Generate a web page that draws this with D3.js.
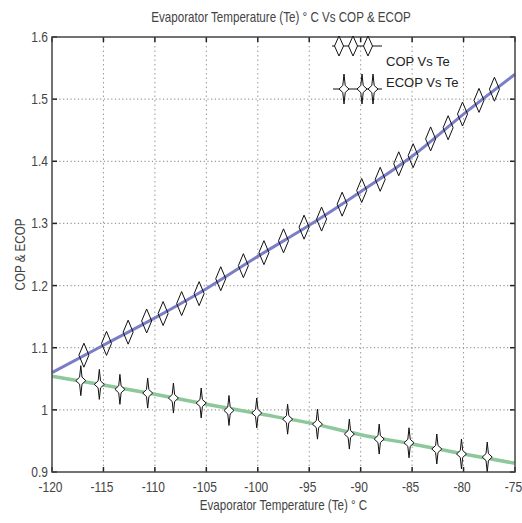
<!DOCTYPE html>
<html lang="en">
  <head>
    <meta charset="UTF-8" />
    <title>COP and ECOP vs Te</title>
    <style>
      body { margin: 0; background: #fff; }
      svg text { font-family: "Liberation Sans Narrow", "Liberation Sans", Arial, sans-serif; }
    </style>
  </head>
  <body>
    <div class="chart"></div>

    <script src="https://cdn.jsdelivr.net/npm/d3@7"></script>
    <script>
    // line data (smooth curves)
    var teLine   = [-120, -115, -110, -105, -100, -95, -90, -85, -80, -75];
    var copLine  = [1.060, 1.104, 1.148, 1.195, 1.247, 1.297, 1.351, 1.408, 1.476, 1.540];
    var ecopLine = [1.054, 1.040, 1.025, 1.009, 0.994, 0.979, 0.960, 0.945, 0.929, 0.914];

    // marker points
    var teCopMarks = [-116.9, -114.7, -112.6, -110.8, -109.2, -107.4, -105.7, -103.6, -101.4, -99.4, -97.5, -95.5,
                      -93.8, -91.8, -89.9, -88.1, -86.3, -84.9, -83.2, -81.5, -80.1, -78.5, -77.0];
    var copMarks   = [1.088, 1.107, 1.125, 1.143, 1.155, 1.171, 1.187, 1.211, 1.232, 1.253, 1.272, 1.294,
                      1.307, 1.331, 1.353, 1.371, 1.396, 1.409, 1.436, 1.454, 1.476, 1.498, 1.516];
    var teEcopMarks = [-117.2, -115.4, -113.4, -110.7, -108.2, -105.5, -102.8, -100.1, -97.1, -94.2, -91.1,
                       -88.2, -85.3, -82.6, -80.2, -77.7];
    var ecopMarks   = [1.047, 1.041, 1.033, 1.027, 1.019, 1.011, 0.999, 0.995, 0.985, 0.977, 0.961,
                       0.953, 0.947, 0.937, 0.929, 0.924];

    var xTicks = [-120, -115, -110, -105, -100, -95, -90, -85, -80, -75];
    var yTicks = [0.9, 1, 1.1, 1.2, 1.3, 1.4, 1.5, 1.6];
    var legendNames = ["COP Vs Te", "ECOP Vs Te"];

    var w = 522, h = 523;
    var margin = { top: 37, right: 7, bottom: 51, left: 52 };
    var iw = w - margin.left - margin.right, ih = h - margin.top - margin.bottom;

    var copColor = "#7b7ec6", ecopColor = "#8ec79b";
    var narrow = 0.8; // squeeze text like the original's condensed font

    var svg = d3.select(".chart").append("svg")
      .attr("width", w).attr("height", h);

    var x = d3.scaleLinear().domain([-120, -75]).range([0, iw]);
    var y = d3.scaleLinear().domain([0.9, 1.6]).range([ih, 0]);

    var g = svg.append("g").attr("transform", "translate(" + margin.left + "," + margin.top + ")");

    // grid
    g.selectAll(".vgrid").data(xTicks.slice(1, -1)).enter().append("line")
      .attr("x1", function(d) { return x(d); }).attr("x2", function(d) { return x(d); })
      .attr("y1", 0).attr("y2", ih)
      .attr("stroke", "#999").attr("stroke-width", 1).attr("stroke-dasharray", "1.5,3");
    g.selectAll(".hgrid").data(yTicks.slice(1, -1)).enter().append("line")
      .attr("y1", function(d) { return y(d); }).attr("y2", function(d) { return y(d); })
      .attr("x1", 0).attr("x2", iw)
      .attr("stroke", "#999").attr("stroke-width", 1.2).attr("stroke-dasharray", "1.2,2.5");

    // lines
    var line = d3.line().curve(d3.curveMonotoneX)
      .x(function(d) { return x(d[0]); }).y(function(d) { return y(d[1]); });

    g.append("path").datum(d3.zip(teLine, copLine))
      .attr("d", line).attr("fill", "none").attr("stroke", copColor).attr("stroke-width", 3);
    g.append("path").datum(d3.zip(teLine, ecopLine))
      .attr("d", line).attr("fill", "none").attr("stroke", ecopColor).attr("stroke-width", 3.5);

    // marker shapes
    var diamond = "M0,-12L5,0L0,12L-5,0Z";
    var star = "M0,-15L1.2,-3.5L5,0L1.2,3.5L0,15L-1.2,3.5L-5,0L-1.2,-3.5Z";

    g.selectAll(".cop").data(d3.zip(teCopMarks, copMarks)).enter().append("path")
      .attr("d", diamond)
      .attr("transform", function(d) { return "translate(" + x(d[0]) + "," + y(d[1]) + ")"; })
      .attr("fill", "none").attr("stroke", "#111").attr("stroke-width", 1);

    g.selectAll(".ecop").data(d3.zip(teEcopMarks, ecopMarks)).enter().append("path")
      .attr("d", star)
      .attr("transform", function(d) { return "translate(" + x(d[0]) + "," + y(d[1]) + ")"; })
      .attr("fill", "#fff").attr("stroke", "#111").attr("stroke-width", 1);

    // axes box + ticks
    var tickLen = 5;
    g.selectAll(".xtb").data(xTicks).enter().append("line")
      .attr("x1", function(d) { return x(d); }).attr("x2", function(d) { return x(d); })
      .attr("y1", ih).attr("y2", ih - tickLen).attr("stroke", "#222").attr("stroke-width", 1.5);
    g.selectAll(".xtt").data(xTicks).enter().append("line")
      .attr("x1", function(d) { return x(d); }).attr("x2", function(d) { return x(d); })
      .attr("y1", 0).attr("y2", tickLen).attr("stroke", "#222").attr("stroke-width", 1.5);
    g.selectAll(".ytl").data(yTicks).enter().append("line")
      .attr("y1", function(d) { return y(d); }).attr("y2", function(d) { return y(d); })
      .attr("x1", 0).attr("x2", tickLen).attr("stroke", "#222").attr("stroke-width", 1.5);
    g.selectAll(".ytr").data(yTicks).enter().append("line")
      .attr("y1", function(d) { return y(d); }).attr("y2", function(d) { return y(d); })
      .attr("x1", iw).attr("x2", iw - tickLen).attr("stroke", "#222").attr("stroke-width", 1.5);

    g.append("rect").attr("x", 0).attr("y", 0).attr("width", iw).attr("height", ih)
      .attr("fill", "none").attr("stroke", "#444").attr("stroke-width", 1.5);

    // tick labels
    g.selectAll(".xl").data(xTicks).enter().append("text")
      .attr("transform", function(d) { return "translate(" + (x(d) - 1.5) + "," + (ih + 20) + ") scale(" + narrow + ",1)"; })
      .attr("text-anchor", "middle").attr("font-size", 15).attr("fill", "#444")
      .text(function(d) { return d; });
    g.selectAll(".yl").data(yTicks).enter().append("text")
      .attr("transform", function(d) { return "translate(-4," + (y(d) + 5) + ") scale(" + narrow + ",1)"; })
      .attr("text-anchor", "end").attr("font-size", 15).attr("fill", "#444")
      .text(function(d) { return d; });

    // titles
    svg.append("text").attr("transform", "translate(281,22) scale(" + narrow + ",1)")
      .attr("text-anchor", "middle").attr("font-size", 14.5).attr("fill", "#444")
      .text("Evaporator Temperature (Te) ° C Vs COP & ECOP");
    svg.append("text").attr("transform", "translate(" + (margin.left + iw / 2) + ",510) scale(" + narrow + ",1)")
      .attr("text-anchor", "middle").attr("font-size", 14.5).attr("fill", "#444")
      .text("Evaporator Temperature (Te) ° C");
    svg.append("text").attr("transform", "translate(25," + (margin.top + y(1.25)) + ") rotate(-90) scale(" + narrow + ",1)")
      .attr("text-anchor", "middle").attr("font-size", 14.5).attr("fill", "#444")
      .text("COP & ECOP");

    // legend
    var lg = svg.append("g").attr("transform", "translate(332,46)");
    lg.append("line").attr("x1", 0).attr("x2", 50).attr("y1", 0).attr("y2", 0)
      .attr("stroke", "#111").attr("stroke-width", 1);
    lg.selectAll(".lc").data([7, 21, 36]).enter().append("path")
      .attr("d", "M0,-10L4.5,0L0,10L-4.5,0Z").attr("transform", function(d) { return "translate(" + d + ",0)"; })
      .attr("fill", "#fff").attr("stroke", "#111");
    lg.append("line").attr("x1", 1).attr("x2", 50).attr("y1", 43).attr("y2", 43)
      .attr("stroke", "#111").attr("stroke-width", 1);
    lg.selectAll(".le").data([12, 30, 41]).enter().append("path")
      .attr("d", star).attr("transform", function(d) { return "translate(" + d + ",43)"; })
      .attr("fill", "#fff").attr("stroke", "#111");
    lg.selectAll(".lt").data(legendNames).enter().append("text")
      .attr("x", 54).attr("y", function(d, i) { return 20 + i * 21; })
      .attr("font-family", "Lato, 'Open Sans', sans-serif")
      .attr("font-size", 13).attr("fill", "#222")
      .text(function(d) { return d; });
    </script>
  </body>
</html>
